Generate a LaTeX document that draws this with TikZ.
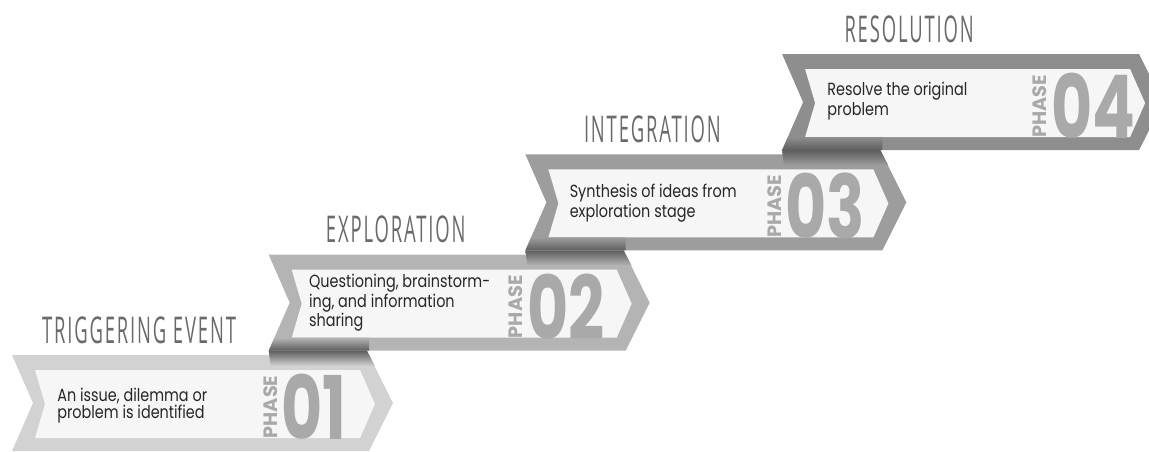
\documentclass[tikz,border=0pt]{standalone}
\usepackage{fontspec}
\setmainfont{Poppins}[FakeStretch=0.82]
\newfontfamily\titlefont{Open Sans}[FakeStretch=0.5,LetterSpace=5]
\newfontfamily\numfont{Poppins}
\usetikzlibrary{positioning}

\definecolor{bandA}{HTML}{D2D2D2}
\definecolor{bandB}{HTML}{B4B4B4}
\definecolor{bandC}{HTML}{9D9D9D}
\definecolor{bandD}{HTML}{8E8E8E}
\definecolor{panel}{HTML}{F6F6F6}
\definecolor{titlegray}{HTML}{6A6A6A}
\definecolor{numgray}{HTML}{A9A9A9}
\definecolor{foldgray}{HTML}{5E5E5E}

\tikzset{
  steptitle/.style={font=\titlefont\fontsize{21}{21}\selectfont, text=titlegray, inner sep=0pt},
  stepdesc/.style={font=\fontsize{10}{9.6}\selectfont, text=black!85, align=left, anchor=west, inner sep=0pt},
  stepnum/.style={font=\numfont\bfseries\fontsize{50}{50}\selectfont, text=numgray, inner sep=0pt},
  stepword/.style={font=\numfont\bfseries\fontsize{11}{11}\selectfont, text=numgray, rotate=90, anchor=south, inner sep=0pt}
}

\begin{document}
\begin{tikzpicture}[x=0.02cm,y=-0.02cm]
  \path[use as bounding box,clip] (0,0) rectangle (1149,451);

  % chevron bands, bottom step first
  \foreach \X/\Y/\c/\n/\ttl/\desc/\dx/\dy/\nx [count=\i] in {
      12/355/bandA/01/TRIGGERING EVENT/{An issue, dilemma or\\problem is identified}/45/51/302,
      268.7/254.7/bandB/02/EXPLORATION/{Questioning, brainstorm-\\ing, and information\\sharing}/40/48/297,
      525.4/154.4/bandC/03/INTEGRATION/{Synthesis of ideas from\\exploration stage}/44/49/300,
      782.1/54.1/bandD/04/RESOLUTION/{Resolve the original\\problem}/45/47/311} {
    \begin{scope}[shift={(\X,\Y)}]
      \fill[\c] (0,0) -- (357,0) -- (381,48) -- (357,96) -- (0,96) -- (21,48) -- cycle;
      \fill[panel] (23,15) -- (348,15) -- (363,49) -- (348,83) -- (23,83) -- (33,49) -- cycle;
      \node[steptitle] (title\i) at (127,-25) {\ttl};
      \node[stepdesc] (desc\i) at (\dx,\dy) {\desc};
      \node[stepnum] (num\i) at (\nx,52) {\scalebox{0.72}[1]{\n}};
      \node[stepword] (phase\i) at ([xshift=-2pt]num\i.west) {PHASE};
    \end{scope}
  }

  % folds between neighbouring steps
  \foreach \X/\Y/\Xn/\ca/\cb in {12/355/268.7/bandA/bandB,
      268.7/254.7/525.4/bandB/bandC, 525.4/154.4/782.1/bandC/bandD} {
    \shade[top color=\cb, bottom color=foldgray]
      (\Xn+5.7,\Y-17.3) -- (\X+357,\Y-17.3) -- (\X+357,\Y-4.3) -- (\Xn,\Y-4.3) -- cycle;
    \shade[top color=foldgray, bottom color=\ca]
      (\Xn,\Y-4.3) -- (\X+355,\Y-4.3) -- (\X+363,\Y+11) -- (\Xn+2,\Y+11) -- cycle;
  }
\end{tikzpicture}
\end{document}
